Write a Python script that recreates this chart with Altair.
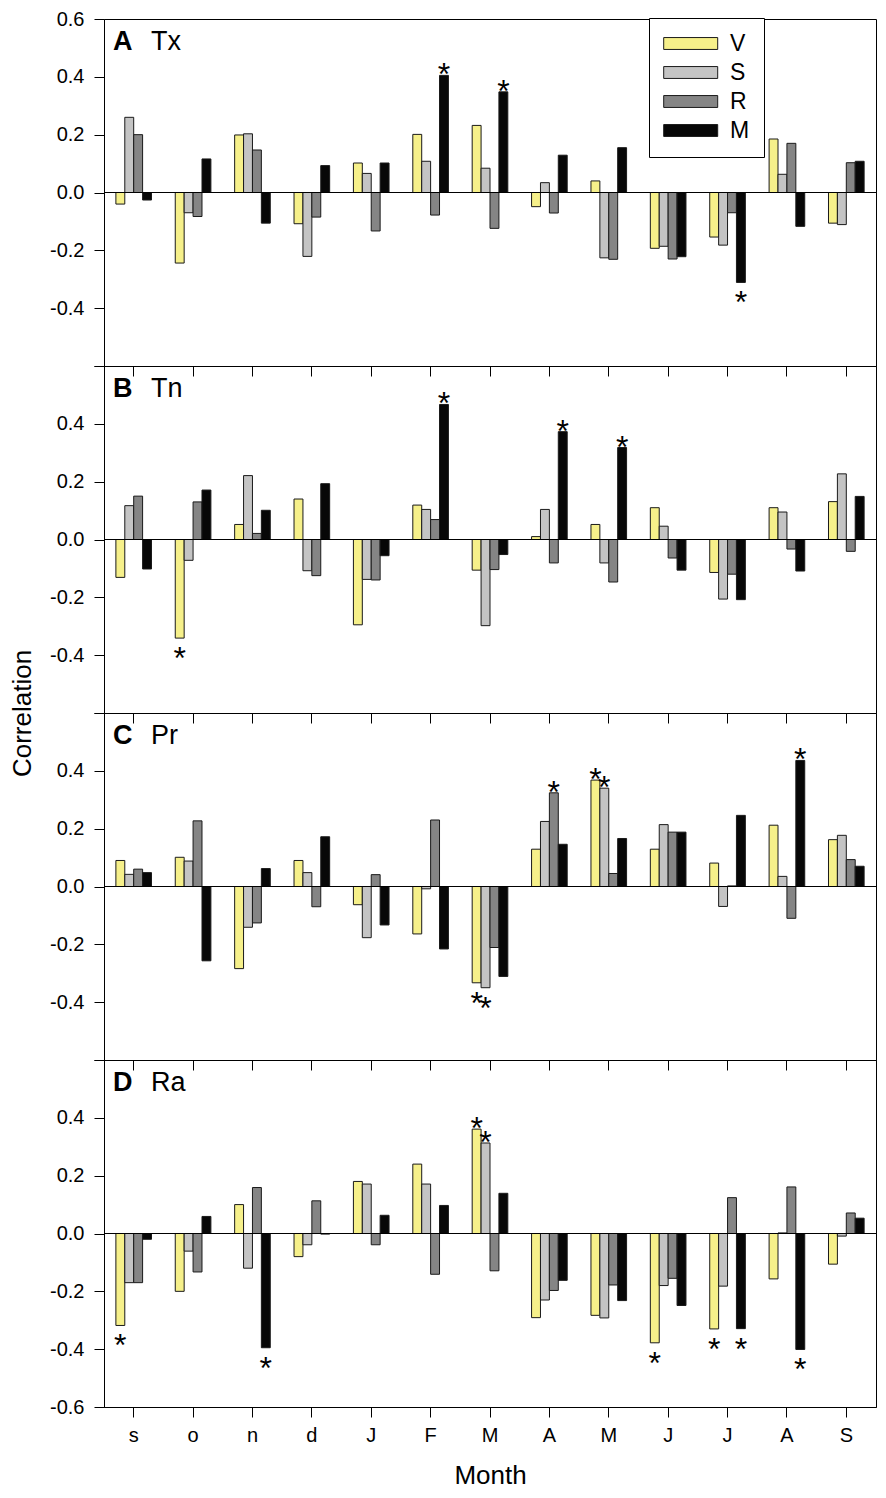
import altair as alt
import pandas as pd

months = ["s", "o", "n", "d", "J", "F", "M", "A", "M", "J", "J", "A", "S"]
series = ["V", "S", "R", "M"]
series_colors = ["#F6F08A", "#C4C4C4", "#858585", "#070707"]

panel_keys = ["A", "B", "C", "D"]
panel_names = ["Tx", "Tn", "Pr", "Ra"]

# Panel A  (Tx)
tx_V = [-0.040, -0.244, 0.199, -0.108, 0.102, 0.201, 0.232, -0.049, 0.040, -0.193, -0.154, 0.185, -0.106]
tx_S = [0.260, -0.070, 0.203, -0.221, 0.066, 0.108, 0.084, 0.034, -0.226, -0.186, -0.182, 0.063, -0.111]
tx_R = [0.200, -0.083, 0.147, -0.085, -0.133, -0.078, -0.124, -0.071, -0.231, -0.230, -0.070, 0.170, 0.103]
tx_M = [-0.026, 0.116, -0.106, 0.093, 0.102, 0.405, 0.348, 0.129, 0.155, -0.222, -0.311, -0.117, 0.108]

# Panel B  (Tn)
tn_V = [-0.131, -0.341, 0.052, 0.140, -0.295, 0.119, -0.106, 0.010, 0.052, 0.110, -0.114, 0.110, 0.131]
tn_S = [0.117, -0.072, 0.221, -0.108, -0.138, 0.104, -0.298, 0.104, -0.081, 0.046, -0.206, 0.095, 0.227]
tn_R = [0.150, 0.130, 0.021, -0.125, -0.140, 0.069, -0.104, -0.081, -0.147, -0.064, -0.120, -0.033, -0.041]
tn_M = [-0.102, 0.171, 0.101, 0.193, -0.056, 0.467, -0.052, 0.373, 0.318, -0.106, -0.208, -0.109, 0.149]

# Panel C  (Pr)
pr_V = [0.090, 0.101, -0.284, 0.090, -0.063, -0.164, -0.333, 0.129, 0.368, 0.129, 0.081, 0.212, 0.162]
pr_S = [0.042, 0.088, -0.141, 0.048, -0.177, -0.008, -0.350, 0.225, 0.340, 0.214, -0.069, 0.035, 0.177]
pr_R = [0.060, 0.227, -0.126, -0.070, 0.041, 0.230, -0.211, 0.324, 0.045, 0.188, 0.002, -0.110, 0.093]
pr_M = [0.048, -0.257, 0.062, 0.172, -0.133, -0.216, -0.311, 0.146, 0.166, 0.188, 0.246, 0.436, 0.070]

# Panel D  (Ra)
ra_V = [-0.318, -0.200, 0.100, -0.080, 0.180, 0.240, 0.361, -0.291, -0.283, -0.378, -0.330, -0.157, -0.106]
ra_S = [-0.170, -0.061, -0.120, -0.039, 0.171, 0.171, 0.313, -0.230, -0.292, -0.180, -0.182, 0.002, -0.009]
ra_R = [-0.170, -0.133, 0.159, 0.113, -0.039, -0.141, -0.129, -0.197, -0.178, -0.155, 0.124, 0.161, 0.071]
ra_M = [-0.020, 0.059, -0.395, -0.002, 0.063, 0.097, 0.139, -0.162, -0.232, -0.249, -0.329, -0.401, 0.053]

# significant correlations (month index, series) marked with *
sig_A = [(5, "M"), (6, "M"), (10, "M")]
sig_B = [(1, "V"), (5, "M"), (7, "M"), (8, "M")]
sig_C = [(6, "V"), (6, "S"), (7, "R"), (8, "V"), (8, "S"), (11, "M")]
sig_D = [(0, "V"), (2, "M"), (6, "V"), (6, "S"), (9, "V"), (10, "V"), (10, "M"), (11, "M")]

values = {
    "A": {"V": tx_V, "S": tx_S, "R": tx_R, "M": tx_M},
    "B": {"V": tn_V, "S": tn_S, "R": tn_R, "M": tn_M},
    "C": {"V": pr_V, "S": pr_S, "R": pr_R, "M": pr_M},
    "D": {"V": ra_V, "S": ra_S, "R": ra_R, "M": ra_M},
}
significant = {"A": sig_A, "B": sig_B, "C": sig_C, "D": sig_D}

rows = []
for p in panel_keys:
    for s in series:
        for i, v in enumerate(values[p][s]):
            rows.append({"panel": p, "mi": i, "series": s, "value": v,
                         "sig": (i, s) in significant[p]})
df = pd.DataFrame(rows)

FONT = "Liberation Sans"
tick_vals = [round(-0.6 + 0.1 * i, 1) for i in range(13)]
month_expr = "[" + ",".join("'%s'" % m for m in months) + "][datum.value]"
minor_test = "round(datum.value*10) % 2 != 0"

PANEL_H = 347
PANEL_W = 772


def y_axis(hide, with_title):
    hide_expr = " || ".join([minor_test] + ["round(datum.value*10) == %d" % h for h in hide])
    label_expr = ("(%s) ? '' : (datum.value < 0 ? '-' : '') + format(abs(datum.value), '.1f')"
                  % hide_expr)
    kw = dict(values=tick_vals, labelExpr=label_expr,
              tickSize={"condition": {"test": minor_test, "value": 5}, "value": 10},
              labelFontSize=20, labelFont=FONT, labelColor="black", labelPadding=10,
              tickColor="black", domainColor="black", grid=False)
    if with_title:
        kw.update(title="Correlation", titleX=-74, titleY=PANEL_H, titleAngle=270,
                  titleAlign="center", titleBaseline="alphabetic", titleFontSize=26,
                  titleFont=FONT, titleFontWeight="normal", titleColor="black")
    else:
        kw.update(title=None)
    return alt.Axis(**kw)


def x_axis(show):
    if show:
        return alt.Axis(labelExpr=month_expr, labelAngle=0, labelFontSize=20, labelFont=FONT,
                        labelColor="black", labelPadding=8, tickSize=10, tickColor="black",
                        domainColor="black", title="Month", titleFontSize=26, titleFont=FONT,
                        titleFontWeight="normal", titlePadding=17, titleColor="black")
    return alt.Axis(labels=False, tickSize=10, tickColor="black", domainColor="black", title=None)


def panel(idx):
    key = panel_keys[idx]
    d = df[df.panel == key]
    hide = {0: [-6], 1: [-6, 6], 2: [-6, 6], 3: [6]}[idx]
    yscale = alt.Scale(domain=[-0.6, 0.6], nice=False, zero=False)
    base = alt.Chart(d).encode(
        x=alt.X("mi:O", axis=x_axis(idx == 3),
                scale=alt.Scale(paddingInner=0.4, paddingOuter=0.2)),
        xOffset=alt.XOffset("series:N", sort=series,
                            scale=alt.Scale(domain=series, paddingInner=0, paddingOuter=0)),
        y=alt.Y("value:Q", axis=y_axis(hide, idx == 1), scale=yscale),
    )
    if idx == 0:
        leg = alt.Legend(orient="none", legendX=545, legendY=-1, title=None,
                         symbolType="M-1,-0.55L4,-0.55L4,0.55L-1,0.55Z", symbolSize=466.56,
                         symbolStrokeColor="#1a1a1a", symbolStrokeWidth=1, symbolOpacity=1,
                         labelFontSize=23, labelFont=FONT, labelColor="black", labelOffset=44,
                         rowPadding=5, padding=14, strokeColor="black", fillColor="white")
    else:
        leg = None
    bars = base.mark_bar(stroke="#1a1a1a", strokeWidth=1).encode(
        color=alt.Color("series:N", scale=alt.Scale(domain=series, range=series_colors),
                        legend=leg)
    )
    zero = alt.Chart(pd.DataFrame({"value": [0.0]})).mark_rule(
        color="black", strokeWidth=1).encode(y=alt.Y("value:Q", scale=yscale))
    star_pos = base.transform_filter("datum.sig && datum.value > 0").mark_text(
        text="*", fontSize=32, font=FONT, align="center", baseline="alphabetic", dy=10,
        color="black")
    star_neg = base.transform_filter("datum.sig && datum.value < 0").mark_text(
        text="*", fontSize=32, font=FONT, align="center", baseline="alphabetic", dy=31,
        color="black")
    lab = pd.DataFrame({"letter": [key], "name": [panel_names[idx]]})
    letter = alt.Chart(lab).mark_text(
        font=FONT, fontSize=27, fontWeight="bold", align="left", baseline="alphabetic",
        color="black").encode(text="letter:N", x=alt.value(9), y=alt.value(31))
    name = alt.Chart(lab).mark_text(
        font=FONT, fontSize=27, align="left", baseline="alphabetic",
        color="black").encode(text="name:N", x=alt.value(47), y=alt.value(31))
    return alt.layer(bars, zero, star_pos, star_neg, letter, name).properties(
        width=PANEL_W, height=PANEL_H)


chart = alt.vconcat(*[panel(i) for i in range(4)], spacing=0, bounds="flush").resolve_legend(
    color="independent"
).properties(
    padding=0
).configure(font=FONT).configure_view(stroke="black", strokeWidth=1)

chart.save("out.html", embed_options={"renderer": "svg", "actions": False})
